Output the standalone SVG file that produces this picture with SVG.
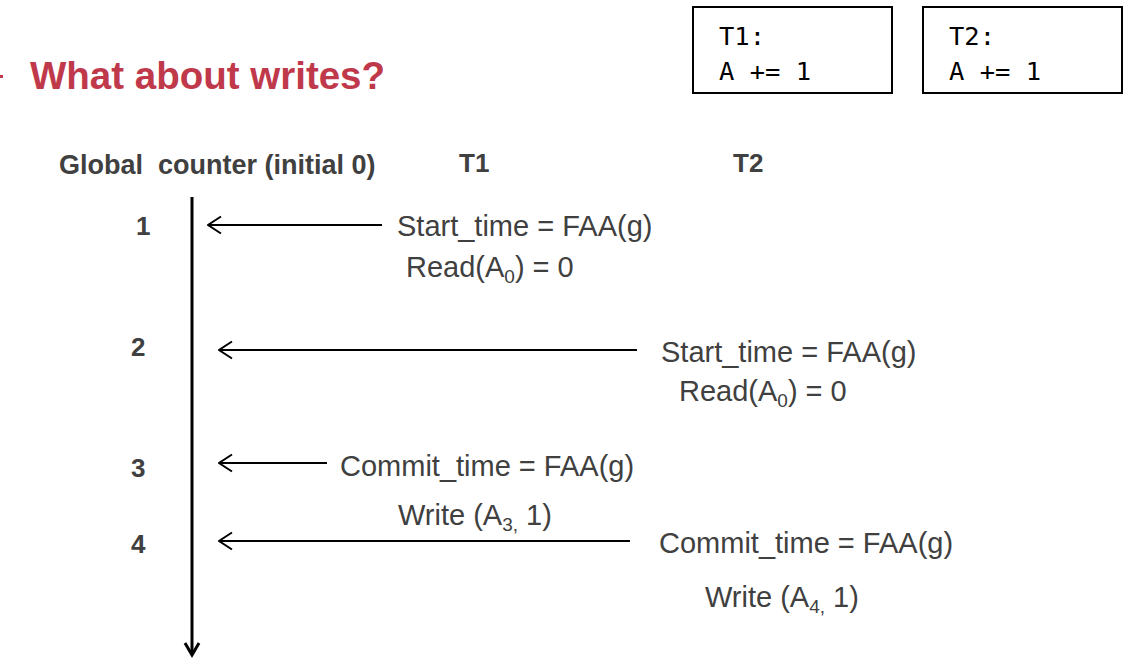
<svg xmlns="http://www.w3.org/2000/svg" width="1130" height="662" viewBox="0 0 1130 662">
<style>
.lbl{font-family:"Liberation Sans",Arial,sans-serif;font-size:29px;fill:#404040}
.sub{font-size:19px}
.bold{font-family:"Liberation Sans",Arial,sans-serif;font-weight:bold;font-size:26px;fill:#404040;white-space:pre}
.mono{font-family:"DejaVu Sans Mono","Liberation Mono",monospace;font-size:25.5px;fill:#000}
.box{fill:#fff;stroke:#000;stroke-width:2}
.conn{stroke:#000;stroke-width:2;fill:none}
</style>
<defs>
<marker id="open" viewBox="0 0 20 20" refX="19" refY="10" markerWidth="20" markerHeight="20" markerUnits="userSpaceOnUse" orient="auto">
<path d="M6,1.5 L19,10 L6,18.5" fill="none" stroke="#000" stroke-width="2"/>
</marker>
</defs>
<rect width="1130" height="662" fill="#fff"/>
<rect x="0" y="75" width="3" height="3" fill="#c0394b"/>
<text x="30" y="89" font-family="Liberation Sans,Arial,sans-serif" font-weight="bold" font-size="38.5" fill="#c0394b">What about writes?</text>
<g id="box-t1"><rect class="box" x="693" y="7" width="199" height="86"/><text class="mono" x="719" y="45">T1:</text><text class="mono" x="719" y="80">A += 1</text></g>
<g id="box-t2"><rect class="box" x="923" y="7" width="199" height="86"/><text class="mono" x="949" y="45">T2:</text><text class="mono" x="949" y="80">A += 1</text></g>
<g id="headers">
<text class="bold" x="59" y="174" style="font-size:27px" xml:space="preserve">Global  counter (initial 0)</text>
<text class="bold" x="459" y="172">T1</text>
<text class="bold" x="733" y="172">T2</text>
</g>
<g id="ticks">
<text class="bold" x="136" y="235">1</text>
<text class="bold" x="131" y="356">2</text>
<text class="bold" x="131" y="477">3</text>
<text class="bold" x="131" y="553">4</text>
</g>
<g id="connectors">
<line x1="192" y1="197" x2="192" y2="654" stroke="#000" stroke-width="3"/>
<path d="M185,643 L192,655 L199,643" fill="none" stroke="#000" stroke-width="3"/>
<line class="conn" x1="382" y1="225" x2="208" y2="225" marker-end="url(#open)"/>
<line class="conn" x1="637" y1="350" x2="219" y2="350" marker-end="url(#open)"/>
<line class="conn" x1="327" y1="463" x2="219" y2="463" marker-end="url(#open)"/>
<line class="conn" x1="630" y1="541" x2="219" y2="541" marker-end="url(#open)"/>
</g>
<g id="t1-ops">
<text class="lbl" x="397" y="236">Start_time = FAA(g)</text>
<text class="lbl" x="406" y="277">Read(A<tspan class="sub" dy="6">0</tspan><tspan dy="-6">) = 0</tspan></text>
<text class="lbl" x="340" y="476">Commit_time = FAA(g)</text>
<text class="lbl" x="398" y="525">Write (A<tspan class="sub" dy="6">3,</tspan><tspan dy="-6"> 1)</tspan></text>
</g>
<g id="t2-ops">
<text class="lbl" x="661" y="362">Start_time = FAA(g)</text>
<text class="lbl" x="679" y="401">Read(A<tspan class="sub" dy="6">0</tspan><tspan dy="-6">) = 0</tspan></text>
<text class="lbl" x="659" y="553">Commit_time = FAA(g)</text>
<text class="lbl" x="705" y="607">Write (A<tspan class="sub" dy="6">4,</tspan><tspan dy="-6"> 1)</tspan></text>
</g>
</svg>
